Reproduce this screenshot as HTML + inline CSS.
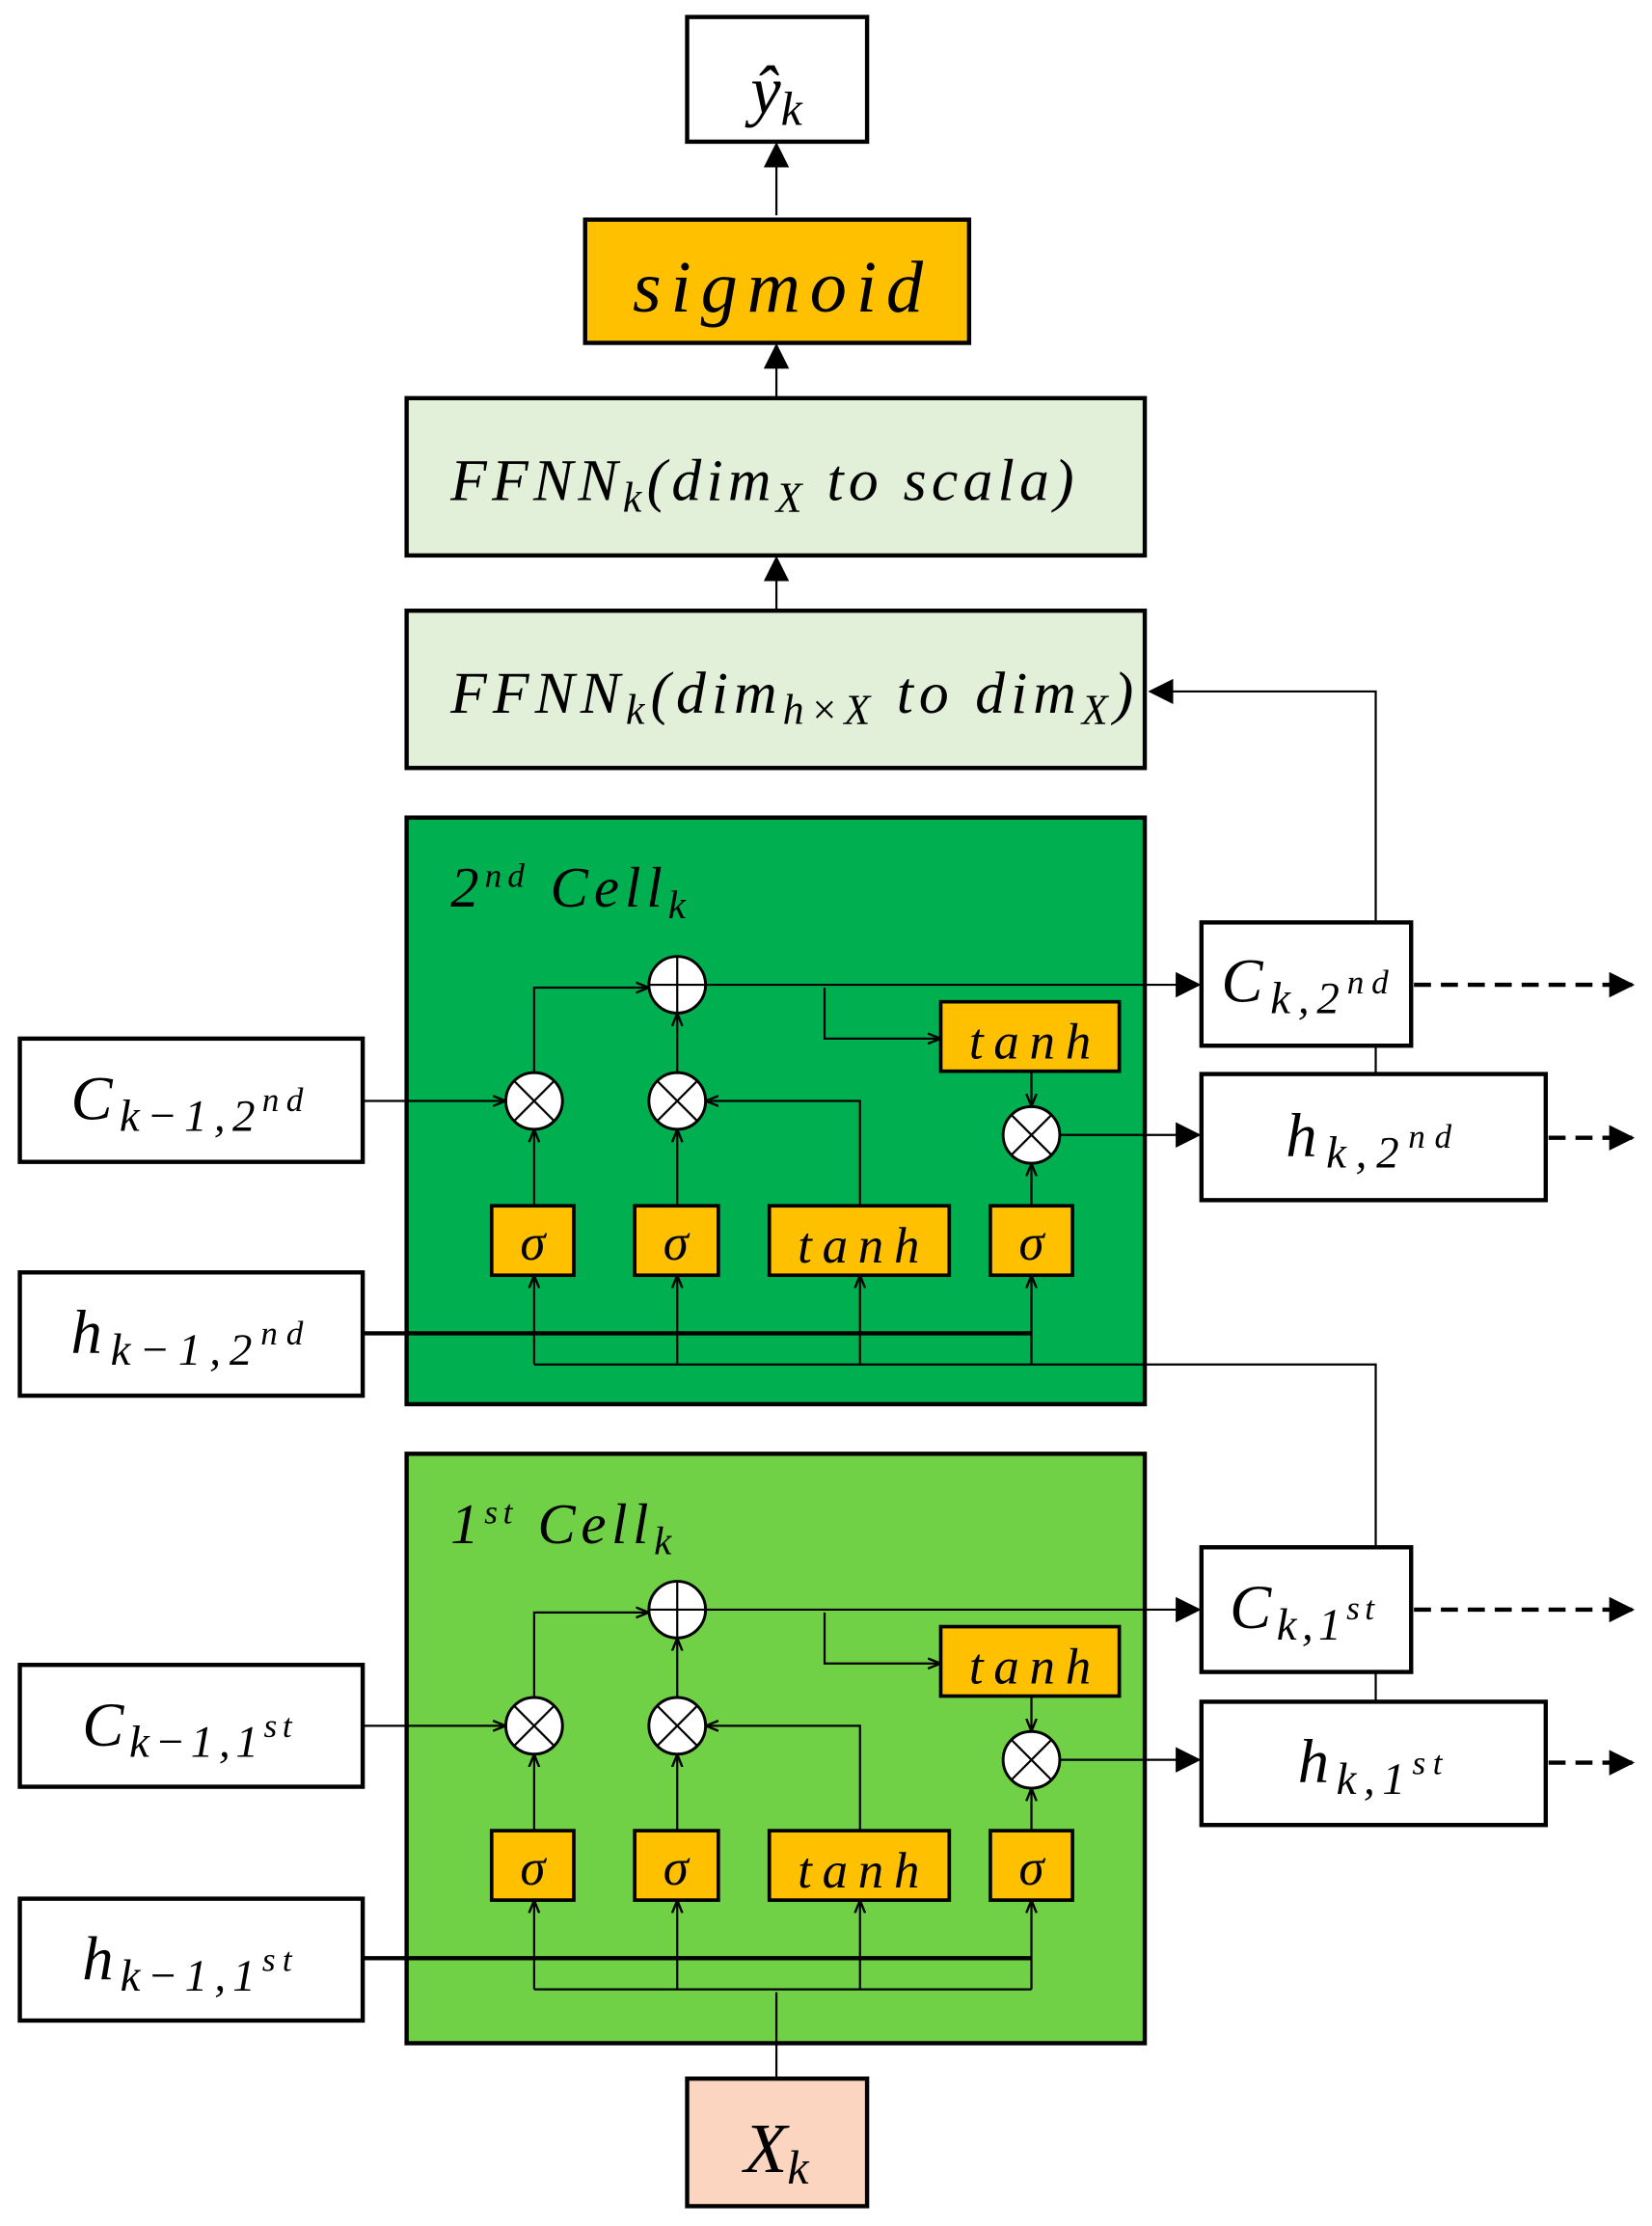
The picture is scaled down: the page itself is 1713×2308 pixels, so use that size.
<!DOCTYPE html>
<html><head><meta charset="utf-8"><style>html,body{margin:0;padding:0;background:#fff}svg{display:block}text{font-family:"Liberation Serif",serif;font-style:italic}</style></head>
<body>
<svg width="1713" height="2308" viewBox="0 0 1166 1571" preserveAspectRatio="none" xmlns="http://www.w3.org/2000/svg">
<defs>
<marker id="s" viewBox="0 0 10 10" refX="9" refY="5" markerWidth="9" markerHeight="9" markerUnits="userSpaceOnUse" orient="auto"><path d="M0,1L10,5L0,9" fill="none" stroke="#000" stroke-width="1.8"/></marker>
<marker id="b" viewBox="0 0 10 10" refX="9" refY="5" markerWidth="18" markerHeight="18" markerUnits="userSpaceOnUse" orient="auto"><path d="M0,0L10,5L0,10z" fill="#000"/></marker>
<g id="cell">
<g stroke="#000" stroke-width="1.5" fill="none">
<line x1="256" y1="777" x2="356" y2="777" marker-end="url(#s)"/>
<polyline points="377,757 377,697 457,697" marker-end="url(#s)"/>
<line x1="478" y1="757" x2="478" y2="716" marker-end="url(#s)"/>
<polyline points="582,697 582,733 663,733" marker-end="url(#s)"/>
<line x1="728" y1="756" x2="728" y2="780" marker-end="url(#s)"/>
<line x1="377" y1="851" x2="377" y2="798" marker-end="url(#s)"/>
<line x1="478" y1="851" x2="478" y2="798" marker-end="url(#s)"/>
<polyline points="607,851 607,777 499,777" marker-end="url(#s)"/>
<line x1="728" y1="851" x2="728" y2="822" marker-end="url(#s)"/>
<line x1="377" y1="963" x2="377" y2="901" marker-end="url(#s)"/>
<line x1="478" y1="963" x2="478" y2="901" marker-end="url(#s)"/>
<line x1="607" y1="963" x2="607" y2="901" marker-end="url(#s)"/>
<line x1="728" y1="963" x2="728" y2="901" marker-end="url(#s)"/>
<line x1="377" y1="963" x2="728" y2="963"/>
</g>
<line x1="256" y1="941" x2="728" y2="941" stroke="#000" stroke-width="3"/>
<line x1="498" y1="695" x2="846" y2="695" stroke="#000" stroke-width="1.5" marker-end="url(#b)"/>
<line x1="748" y1="801" x2="846" y2="801" stroke="#000" stroke-width="1.5" marker-end="url(#b)"/>
<line x1="998" y1="695" x2="1152" y2="695" stroke="#000" stroke-width="3" stroke-dasharray="12,7" marker-end="url(#b)"/>
<line x1="1093" y1="803" x2="1152" y2="803" stroke="#000" stroke-width="3" stroke-dasharray="12,7" marker-end="url(#b)"/>
<g stroke="#000" stroke-width="2" fill="#fff">
<circle cx="478" cy="695" r="20"/><circle cx="377" cy="777" r="20"/><circle cx="478" cy="777" r="20"/><circle cx="728" cy="801" r="20"/>
</g>
<g stroke="#000" stroke-width="1.5">
<line x1="458" y1="695" x2="498" y2="695"/><line x1="478" y1="675" x2="478" y2="715"/>
<line x1="363" y1="763" x2="391" y2="791"/><line x1="391" y1="763" x2="363" y2="791"/>
<line x1="464" y1="763" x2="492" y2="791"/><line x1="492" y1="763" x2="464" y2="791"/>
<line x1="714" y1="787" x2="742" y2="815"/><line x1="742" y1="787" x2="714" y2="815"/>
</g>
<g fill="#FFC000" stroke="#000" stroke-width="2.5">
<rect x="347" y="851" width="58" height="49"/><rect x="448" y="851" width="59" height="49"/><rect x="543" y="851" width="127" height="49"/><rect x="699" y="851" width="58" height="49"/><rect x="664" y="707" width="126" height="49"/>
</g>
<g font-size="36" text-anchor="middle">
<text x="376" y="889">σ</text><text x="477" y="889">σ</text><text x="606" y="891" textLength="86" lengthAdjust="spacing">tanh</text><text x="728" y="889">σ</text><text x="727" y="747" textLength="86" lengthAdjust="spacing">tanh</text>
</g>
</g>
</defs>
<rect width="1166" height="1571" fill="#fff"/>
<rect x="287" y="577" width="521" height="414" fill="#00B050" stroke="#000" stroke-width="3"/>
<rect x="287" y="1026" width="521" height="416" fill="#70D046" stroke="#000" stroke-width="3"/>
<g fill="none" stroke="#000" stroke-width="1.5">
<polyline points="971,1092 971,963 728,963"/>
<line x1="971" y1="1180" x2="971" y2="1201"/>
<polyline points="971,651 971,488 812,488" marker-end="url(#b)"/>
<line x1="971" y1="738" x2="971" y2="758"/>
<polyline points="548,1467 548,1406"/>
</g>
<use href="#cell"/>
<use href="#cell" y="441"/>
<line x1="548" y1="152" x2="548" y2="102" stroke="#000" stroke-width="1.5" marker-end="url(#b)"/>
<line x1="548" y1="281" x2="548" y2="244" stroke="#000" stroke-width="1.5" marker-end="url(#b)"/>
<line x1="548" y1="431" x2="548" y2="394" stroke="#000" stroke-width="1.5" marker-end="url(#b)"/>
<g stroke="#000" stroke-width="3">
<rect x="485" y="12" width="127" height="88" fill="#fff"/>
<rect x="413" y="155" width="271" height="87" fill="#FFC000"/>
<rect x="287" y="281" width="521" height="111" fill="#E2F0D9"/>
<rect x="287" y="431" width="521" height="111" fill="#E2F0D9"/>
<rect x="14" y="733" width="242" height="87" fill="#fff"/>
<rect x="14" y="898" width="242" height="87" fill="#fff"/>
<rect x="14" y="1175" width="242" height="86" fill="#fff"/>
<rect x="14" y="1340" width="242" height="86" fill="#fff"/>
<rect x="848" y="651" width="148" height="87" fill="#fff"/>
<rect x="848" y="758" width="243" height="89" fill="#fff"/>
<rect x="848" y="1092" width="148" height="88" fill="#fff"/>
<rect x="848" y="1201" width="243" height="87" fill="#fff"/>
<rect x="485" y="1467" width="127" height="90" fill="#FBD5C0"/>
</g>
<g text-anchor="middle">
<text x="548" y="80" font-size="48">ŷ<tspan font-size="34" dy="8">k</tspan></text>
<text x="549" y="220" font-size="52" textLength="205" lengthAdjust="spacing">sigmoid</text>
<text x="538" y="353" font-size="42" textLength="440" lengthAdjust="spacing">FFNN<tspan font-size="30" dy="8">k</tspan><tspan dy="-8">(dim</tspan><tspan font-size="30" dy="8">X</tspan><tspan dy="-8"> to scala)</tspan></text>
<text x="559" y="503" font-size="42" textLength="482" lengthAdjust="spacing">FFNN<tspan font-size="30" dy="8">k</tspan><tspan dy="-8">(dim</tspan><tspan font-size="30" dy="8">h×X</tspan><tspan dy="-8"> to dim</tspan><tspan font-size="30" dy="8">X</tspan><tspan dy="-8">)</tspan></text>
<text x="132" y="790" font-size="44" textLength="164" lengthAdjust="spacing">C<tspan font-size="32" dy="8">k−1,2</tspan><tspan font-size="24" dy="-14">nd</tspan></text>
<text x="132" y="955" font-size="44" textLength="164" lengthAdjust="spacing">h<tspan font-size="32" dy="8">k−1,2</tspan><tspan font-size="24" dy="-14">nd</tspan></text>
<text x="132" y="1232" font-size="44" textLength="148" lengthAdjust="spacing">C<tspan font-size="32" dy="8">k−1,1</tspan><tspan font-size="24" dy="-14">st</tspan></text>
<text x="132" y="1397" font-size="44" textLength="148" lengthAdjust="spacing">h<tspan font-size="32" dy="8">k−1,1</tspan><tspan font-size="24" dy="-14">st</tspan></text>
<text x="921" y="707" font-size="44" textLength="118" lengthAdjust="spacing">C<tspan font-size="32" dy="8">k,2</tspan><tspan font-size="24" dy="-14">nd</tspan></text>
<text x="966" y="816" font-size="44" textLength="117" lengthAdjust="spacing">h<tspan font-size="32" dy="8">k,2</tspan><tspan font-size="24" dy="-14">nd</tspan></text>
<text x="919" y="1149" font-size="44" textLength="102" lengthAdjust="spacing">C<tspan font-size="32" dy="8">k,1</tspan><tspan font-size="24" dy="-14">st</tspan></text>
<text x="967" y="1258" font-size="44" textLength="102" lengthAdjust="spacing">h<tspan font-size="32" dy="8">k,1</tspan><tspan font-size="24" dy="-14">st</tspan></text>
<text x="548" y="1533" font-size="50">X<tspan font-size="34" dy="8">k</tspan></text>
</g>
<text x="318" y="640" font-size="40" font-style="normal" textLength="166" lengthAdjust="spacing">2<tspan font-size="24" dy="-14">nd</tspan><tspan dy="14" font-style="italic"> Cell</tspan><tspan font-size="28" dy="8" font-style="italic">k</tspan></text>
<text x="318" y="1089" font-size="40" font-style="normal" textLength="156" lengthAdjust="spacing">1<tspan font-size="24" dy="-14">st</tspan><tspan dy="14" font-style="italic"> Cell</tspan><tspan font-size="28" dy="8" font-style="italic">k</tspan></text>
</svg>
</body></html>
